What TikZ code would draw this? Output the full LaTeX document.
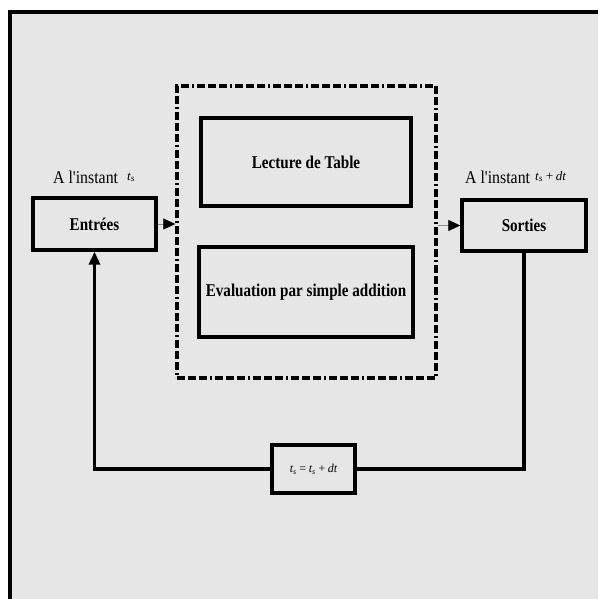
\documentclass[tikz,border=0pt]{standalone}
\usepackage{fontspec}
\setmainfont{Liberation Serif}
\newfontfamily\boldcond[FakeStretch=0.84]{Liberation Serif Bold}
\newfontfamily\regcond[FakeStretch=0.88]{Liberation Serif}
\usetikzlibrary{arrows.meta}
\definecolor{bgpaper}{RGB}{230,230,230}
\definecolor{thinline}{RGB}{140,140,140}
\tikzset{
  blockbox/.style={draw=black, line width=3.4pt, inner sep=0pt, font=\boldcond\fontsize{18}{21}\selectfont},
  dashframe/.style={draw=black, line width=3.4pt, dash pattern=on 8pt off 3pt on 8pt off 3pt on 8pt off 3pt on 2pt off 3pt},
  thinarrow/.style={draw=thinline, line width=0.8pt, -{Triangle[length=12pt,width=11pt,color=black]}},
  feedback/.style={draw=black, line width=3.2pt},
  instlabel/.style={inner sep=0pt, font=\regcond\fontsize{18}{20}\selectfont},
  mathlabel/.style={inner sep=0pt, font=\fontsize{13}{15}\selectfont\itshape}
}
\begin{document}
\begin{tikzpicture}[x=1pt,y=-1pt]
\useasboundingbox (0,0) rectangle (598,599);
% background paper
\fill[bgpaper] (10,12) rectangle (598,599);
\draw[line width=3.5pt] (10,599) -- (10,12) -- (598,12);
% dash-dot frame
\node[dashframe, minimum width=259pt, minimum height=292pt, inner sep=0pt] (frame) at (306.5,232) {};
% blocks
\node[blockbox, minimum width=123pt, minimum height=52pt] (entrees) at (94.5,224) {Entrées};
\node[blockbox, minimum width=124pt, minimum height=51pt] (sorties) at (524,225.5) {Sorties};
\node[blockbox, minimum width=210pt, minimum height=88pt] (lecture) at (306,162) {Lecture de Table};
\node[blockbox, minimum width=214pt, minimum height=90pt] (evaluation) at (306,292) {Evaluation par simple addition};
\node[blockbox, line width=3.2pt, minimum width=83pt, minimum height=48pt, font=\fontsize{12}{14}\selectfont\itshape] (tbox) at (313.5,469) {t\textsubscript{s}\,=\,t\textsubscript{s}\,+\,dt};
% labels
\node[instlabel, anchor=base west] (lblin) at (53,183) {A l'instant};
\node[mathlabel, anchor=base west] (lblints) at (127,180) {t\textsubscript{s}};
\node[instlabel, anchor=base west] (lblout) at (465,183) {A l'instant};
\node[mathlabel, anchor=base west] (lbloutts) at (535,180) {t\textsubscript{s}\,+\,dt};
% connectors
\draw[thinarrow] (entrees.east) -- (entrees.east -| frame.west);
\draw[thinarrow] (frame.east |- sorties.west) -- (sorties.west);
\draw[feedback] (sorties.south) |- (tbox.east);
\draw[feedback, -{Triangle[length=13pt,width=11pt]}] (tbox.west) -| (entrees.south);
\end{tikzpicture}
\end{document}
